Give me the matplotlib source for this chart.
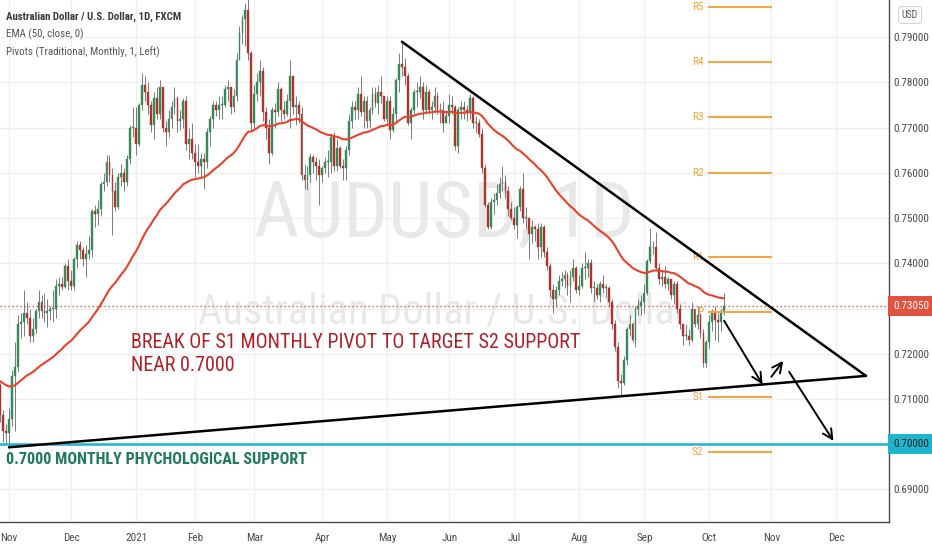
import numpy as np
import pandas as pd
import matplotlib
matplotlib.use("Agg")
import matplotlib.pyplot as plt
import matplotlib.transforms as mtransforms

NARROW = ['Roboto Condensed', 'Liberation Sans', 'DejaVu Sans']
plt.rcParams['font.family'] = NARROW

# ---- daily AUDUSD candles, Oct 28 2020 .. Oct 8 2021 (FXCM, no Dec 25 / Jan 1 bars)
first_open = 0.7130
closes = [
    # Oct 2020
    0.7065, 0.7030, 0.7025,
    # Nov
    0.7055, 0.7150, 0.7170, 0.7265, 0.7270, 0.7290, 0.7280, 0.7240, 0.7255, 0.7295,
    0.7315, 0.7295, 0.7290, 0.7295, 0.7300, 0.7300, 0.7350, 0.7355, 0.7348, 0.7395, 0.7360,
    # Dec
    0.7350, 0.7410, 0.7440, 0.7430, 0.7410, 0.7420, 0.7430, 0.7515, 0.7510, 0.7520, 0.7575,
    0.7580, 0.7625, 0.7595, 0.7560, 0.7525, 0.7590, 0.7600, 0.7580, 0.7630, 0.7700, 0.7700,
    # Jan 2021
    0.7665, 0.7750, 0.7795, 0.7780, 0.7750, 0.7705, 0.7765, 0.7730, 0.7790, 0.7700,
    0.7690, 0.7720, 0.7745, 0.7765, 0.7715, 0.7720, 0.7760, 0.7665, 0.7675, 0.7645,
    # Feb
    0.7625, 0.7615, 0.7630, 0.7625, 0.7690, 0.7720, 0.7750, 0.7740, 0.7750, 0.7750,
    0.7785, 0.7790, 0.7745, 0.7770, 0.7850, 0.7910, 0.7940, 0.7960, 0.7865, 0.7710,
    # Mar
    0.7775, 0.7800, 0.7825, 0.7735, 0.7700, 0.7645, 0.7740, 0.7735, 0.7785, 0.7740, 0.7730,
    0.7760, 0.7815, 0.7745, 0.7750, 0.7730, 0.7595, 0.7585, 0.7595, 0.7635, 0.7625, 0.7615, 0.7595,
    # Apr
    0.7610, 0.7625, 0.7625, 0.7680, 0.7615, 0.7655, 0.7615, 0.7610, 0.7650, 0.7715, 0.7745,
    0.7740, 0.7775, 0.7735, 0.7760, 0.7715, 0.7740, 0.7775, 0.7755, 0.7780, 0.7770, 0.7720,
    # May
    0.7760, 0.7695, 0.7730, 0.7805, 0.7840, 0.7835, 0.7815, 0.7710, 0.7740, 0.7780, 0.7780,
    0.7790, 0.7740, 0.7780, 0.7740, 0.7745, 0.7770, 0.7740, 0.7740, 0.7710, 0.7725,
    # Jun
    0.7750, 0.7745, 0.7660, 0.7740, 0.7745, 0.7740, 0.7735, 0.7765, 0.7710, 0.7710, 0.7685,
    0.7610, 0.7530, 0.7480, 0.7535, 0.7540, 0.7555, 0.7575, 0.7580, 0.7560, 0.7520, 0.7500,
    # Jul
    0.7485, 0.7525, 0.7565, 0.7500, 0.7500, 0.7465, 0.7480, 0.7475, 0.7435, 0.7480, 0.7425,
    0.7395, 0.7340, 0.7320, 0.7340, 0.7360, 0.7365, 0.7375, 0.7350, 0.7370, 0.7390, 0.7340,
    # Aug
    0.7350, 0.7390, 0.7390, 0.7400, 0.7345, 0.7345, 0.7330, 0.7355, 0.7345, 0.7345, 0.7315,
    0.7265, 0.7215, 0.7140, 0.7135, 0.7185, 0.7255, 0.7265, 0.7230, 0.7300, 0.7305, 0.7315,
    # Sep
    0.7335, 0.7405, 0.7435, 0.7435, 0.7390, 0.7365, 0.7370, 0.7355, 0.7365, 0.7330, 0.7355,
    0.7300, 0.7265, 0.7240, 0.7240, 0.7230, 0.7300, 0.7265, 0.7285, 0.7245, 0.7180, 0.7225,
    # Oct
    0.7270, 0.7295, 0.7275, 0.7270, 0.7295, 0.7305,
]
highs = [
    0.7135, 0.7075, 0.7045,
    0.7080, 0.7165, 0.7225, 0.7285, 0.7290, 0.7340, 0.7315, 0.7300, 0.7280, 0.7300,
    0.7340, 0.7330, 0.7335, 0.7320, 0.7305, 0.7340, 0.7365, 0.7370, 0.7370, 0.7400, 0.7410,
    0.7385, 0.7415, 0.7450, 0.7450, 0.7435, 0.7440, 0.7460, 0.7520, 0.7530, 0.7540, 0.7580,
    0.7600, 0.7640, 0.7640, 0.7610, 0.7580, 0.7600, 0.7620, 0.7610, 0.7640, 0.7705, 0.7745,
    0.7745, 0.7755, 0.7820, 0.7815, 0.7800, 0.7760, 0.7780, 0.7790, 0.7805, 0.7790,
    0.7715, 0.7740, 0.7760, 0.7790, 0.7770, 0.7740, 0.7765, 0.7770, 0.7700, 0.7710,
    0.7665, 0.7665, 0.7645, 0.7645, 0.7700, 0.7725, 0.7760, 0.7760, 0.7770, 0.7770,
    0.7795, 0.7805, 0.7785, 0.7785, 0.7865, 0.7925, 0.7950, 0.7975, 0.8007, 0.7870,
    0.7795, 0.7820, 0.7850, 0.7835, 0.7745, 0.7720, 0.7745, 0.7755, 0.7800, 0.7790, 0.7760,
    0.7775, 0.7850, 0.7810, 0.7770, 0.7760, 0.7745, 0.7620, 0.7615, 0.7645, 0.7640, 0.7635, 0.7630,
    0.7615, 0.7635, 0.7650, 0.7685, 0.7690, 0.7675, 0.7660, 0.7630, 0.7660, 0.7730, 0.7760,
    0.7760, 0.7790, 0.7815, 0.7770, 0.7770, 0.7745, 0.7790, 0.7790, 0.7795, 0.7815, 0.7770,
    0.7770, 0.7770, 0.7745, 0.7810, 0.7865, 0.7891, 0.7855, 0.7820, 0.7745, 0.7785, 0.7800,
    0.7815, 0.7800, 0.7795, 0.7785, 0.7760, 0.7790, 0.7780, 0.7755, 0.7760, 0.7740,
    0.7775, 0.7770, 0.7750, 0.7745, 0.7760, 0.7760, 0.7750, 0.7775, 0.7770, 0.7725, 0.7720,
    0.7700, 0.7620, 0.7535, 0.7545, 0.7555, 0.7575, 0.7590, 0.7615, 0.7595, 0.7570, 0.7535,
    0.7525, 0.7530, 0.7570, 0.7600, 0.7525, 0.7500, 0.7495, 0.7485, 0.7490, 0.7490, 0.7485,
    0.7435, 0.7400, 0.7355, 0.7350, 0.7375, 0.7380, 0.7385, 0.7380, 0.7385, 0.7410, 0.7395,
    0.7375, 0.7400, 0.7425, 0.7410, 0.7410, 0.7360, 0.7355, 0.7360, 0.7375, 0.7355, 0.7350,
    0.7320, 0.7275, 0.7225, 0.7155, 0.7195, 0.7260, 0.7285, 0.7270, 0.7305, 0.7320, 0.7330,
    0.7355, 0.7410, 0.7478, 0.7450, 0.7470, 0.7400, 0.7385, 0.7395, 0.7370, 0.7365, 0.7360,
    0.7360, 0.7310, 0.7260, 0.7265, 0.7255, 0.7315, 0.7300, 0.7305, 0.7290, 0.7255, 0.7230,
    0.7285, 0.7300, 0.7305, 0.7290, 0.7300, 0.7335,
]
lows = [
    0.7050, 0.7005, 0.7000,
    0.6991, 0.7040, 0.7030, 0.7160, 0.7235, 0.7240, 0.7265, 0.7225, 0.7225, 0.7245,
    0.7280, 0.7280, 0.7270, 0.7260, 0.7275, 0.7270, 0.7280, 0.7330, 0.7340, 0.7345, 0.7340,
    0.7340, 0.7340, 0.7390, 0.7410, 0.7395, 0.7370, 0.7410, 0.7415, 0.7480, 0.7485, 0.7505,
    0.7560, 0.7570, 0.7580, 0.7462, 0.7515, 0.7520, 0.7570, 0.7560, 0.7570, 0.7620, 0.7680,
    0.7640, 0.7660, 0.7740, 0.7760, 0.7730, 0.7690, 0.7675, 0.7720, 0.7720, 0.7690,
    0.7660, 0.7680, 0.7700, 0.7730, 0.7690, 0.7695, 0.7700, 0.7650, 0.7630, 0.7630,
    0.7590, 0.7600, 0.7590, 0.7565, 0.7610, 0.7660, 0.7700, 0.7725, 0.7720, 0.7720,
    0.7745, 0.7760, 0.7730, 0.7735, 0.7760, 0.7850, 0.7885, 0.7880, 0.7850, 0.7695,
    0.7700, 0.7760, 0.7770, 0.7715, 0.7675, 0.7620, 0.7640, 0.7700, 0.7725, 0.7715, 0.7720,
    0.7725, 0.7700, 0.7730, 0.7705, 0.7710, 0.7585, 0.7565, 0.7562, 0.7580, 0.7600, 0.7585, 0.7530,
    0.7580, 0.7600, 0.7590, 0.7600, 0.7605, 0.7605, 0.7610, 0.7585, 0.7585, 0.7640, 0.7700,
    0.7720, 0.7720, 0.7725, 0.7700, 0.7700, 0.7700, 0.7730, 0.7745, 0.7730, 0.7755, 0.7715,
    0.7705, 0.7675, 0.7690, 0.7710, 0.7780, 0.7815, 0.7795, 0.7705, 0.7675, 0.7730, 0.7745,
    0.7765, 0.7720, 0.7730, 0.7730, 0.7720, 0.7735, 0.7730, 0.7710, 0.7690, 0.7710,
    0.7710, 0.7730, 0.7650, 0.7645, 0.7720, 0.7720, 0.7715, 0.7720, 0.7700, 0.7690, 0.7680,
    0.7600, 0.7525, 0.7475, 0.7475, 0.7510, 0.7530, 0.7545, 0.7560, 0.7545, 0.7505, 0.7495,
    0.7475, 0.7455, 0.7515, 0.7490, 0.7475, 0.7410, 0.7445, 0.7450, 0.7410, 0.7415, 0.7415,
    0.7385, 0.7325, 0.7290, 0.7305, 0.7330, 0.7350, 0.7345, 0.7330, 0.7315, 0.7360, 0.7335,
    0.7330, 0.7345, 0.7365, 0.7370, 0.7335, 0.7315, 0.7320, 0.7315, 0.7335, 0.7325, 0.7305,
    0.7255, 0.7205, 0.7125, 0.7106, 0.7130, 0.7175, 0.7240, 0.7225, 0.7215, 0.7285, 0.7285,
    0.7290, 0.7330, 0.7400, 0.7420, 0.7385, 0.7355, 0.7350, 0.7345, 0.7340, 0.7320, 0.7310,
    0.7290, 0.7255, 0.7220, 0.7230, 0.7220, 0.7225, 0.7260, 0.7255, 0.7235, 0.7170, 0.7170,
    0.7210, 0.7250, 0.7230, 0.7225, 0.7250, 0.7285,
]
ema_seed = 0.7142  # EMA(50) value just before the first visible bar

# monthly pivot levels (Traditional, October 2021)
pivot_names = ['R5', 'R4', 'R3', 'R2', 'R1', 'P', 'S1', 'S2']
pivot_levels = [0.79670, 0.78447, 0.77230, 0.76000, 0.74146, 0.72923, 0.71049, 0.69832]
pivot_start, pivot_end = '2021-10-01', '2021-11-01'

last_price = 0.73050
support = 0.70000

# drawn trend lines and arrows (date, price)
upper_line = [('2021-05-10', 0.7890), ('2021-12-15', 0.7151)]
lower_line = [('2020-11-02', 0.6993), ('2021-12-15', 0.7151)]
arrows = [
    (('2021-10-08', 0.7273), ('2021-10-27', 0.7132)),
    (('2021-11-01', 0.7149), ('2021-11-05', 0.7184)),
    (('2021-11-09', 0.7160), ('2021-11-30', 0.7007)),
]

month_ticks = ['2020-11-02', '2020-12-01', '2021-01-04', '2021-02-01', '2021-03-01',
               '2021-04-01', '2021-05-03', '2021-06-01', '2021-07-01', '2021-08-02',
               '2021-09-01', '2021-10-01', '2021-11-01', '2021-12-01']
month_labels = ['Nov', 'Dec', '2021', 'Feb', 'Mar', 'Apr', 'May', 'Jun', 'Jul', 'Aug',
                'Sep', 'Oct', 'Nov', 'Dec']

holidays = ['2020-12-25', '2021-01-01']


def bar(d):
    return np.busday_count('2020-11-02', d, holidays=holidays)


dates = pd.bdate_range('2020-10-28', periods=len(closes), freq='C', holidays=holidays)
x = np.array([bar(d.strftime('%Y-%m-%d')) for d in dates])
c = np.array(closes)
o = np.concatenate([[first_open], c[:-1]])
h = np.array(highs)
l = np.array(lows)

ema = []
e = ema_seed
for v in closes:
    e = e + 2.0 / 51 * (v - e)
    ema.append(e)

# ---- figure
fig = plt.figure(figsize=(9.32, 5.5), dpi=100)
ax = fig.add_axes([0, 28 / 550, 889 / 932, 522 / 550])
ax.set_xlim(-9 / 2.955, 880 / 2.955)
ax.set_ylim(0.68277, 0.79825)

yt = np.round(np.arange(0.69, 0.7951, 0.01), 2)
ax.set_yticks(yt)
ax.set_yticklabels(['' if abs(t - 0.70) < 1e-6 or abs(t - 0.73) < 1e-6 else '%.5f' % t
                    for t in yt])
ax.yaxis.tick_right()
ax.set_xticks([bar(d) for d in month_ticks])
ax.set_xticklabels(month_labels)
ax.tick_params(axis='both', length=0, labelsize=8, labelcolor='#4a4a4a')
ax.tick_params(axis='x', pad=8)
ax.tick_params(axis='y', pad=3)
ax.grid(True, color='#efefef', lw=0.9, zorder=0)
ax.set_axisbelow(True)
for s in ['top', 'left']:
    ax.spines[s].set_visible(False)
for s in ['right', 'bottom']:
    ax.spines[s].set_color('#4a4a4a')
    ax.spines[s].set_linewidth(1.0)

# watermark
ax.text(0.500, 0.588, 'AUDUSD, 1D', transform=ax.transAxes, fontsize=56.5,
        color='#e8e8e8', ha='center', va='center', zorder=1)
ax.text(0.498, 0.402, 'Australian Dollar / U.S. Dollar', transform=ax.transAxes, fontsize=30.5,
        color='#e8e8e8', ha='center', va='center', zorder=1)

# candles
up = c >= o
col = np.where(up, '#358a5a', '#b0332b')
ax.vlines(x, l, h, color='#7a7a7a', lw=0.7, zorder=3)
body = np.maximum(np.abs(c - o), 0.00015)
ax.bar(x, body, bottom=np.minimum(o, c), width=0.62, color=col, edgecolor=col,
       lw=0.3, zorder=4)

ax.plot(x, ema, color='#e8412c', lw=1.5, zorder=5)

# pivots
p0, p1 = bar(pivot_start), bar(pivot_end)
for name, lev in zip(pivot_names, pivot_levels):
    ax.plot([p0, p1], [lev, lev], color='#f8a33a', lw=1.4, zorder=5)
    ax.text(p0 - 2.0, lev, name, color='#f8a33a', fontsize=8, ha='right', va='center',
            zorder=5)

# level lines
ax.axhline(last_price, color='#e0574b', lw=0.9, ls=(0, (1.2, 2.0)), zorder=2)
ax.axhline(support, color='#1fb4cf', lw=1.8, zorder=6)

for seg in (upper_line, lower_line):
    ax.plot([bar(seg[0][0]), bar(seg[1][0])], [seg[0][1], seg[1][1]],
            color='black', lw=1.8, zorder=7, solid_capstyle='round')
for (d0, v0), (d1, v1) in arrows:
    ax.annotate('', xy=(bar(d1), v1), xytext=(bar(d0), v0),
                arrowprops=dict(arrowstyle='->,head_length=0.7,head_width=0.35',
                                color='black', lw=1.4, shrinkA=0, shrinkB=0), zorder=7)

# annotation texts
ax.text(131 / 889, 1 - 354 / 522, 'BREAK OF S1 MONTHLY PIVOT TO TARGET S2 SUPPORT\nNEAR 0.7000',
        transform=ax.transAxes, fontsize=14.4, color='#b01f27', ha='left', va='center',
        linespacing=1.3, zorder=8)
ax.text(6 / 889, 1 - 459 / 522, '0.7000 MONTHLY PHYCHOLOGICAL SUPPORT', transform=ax.transAxes,
        fontsize=11.6, fontweight='bold', color='#1f7a5c', ha='left', va='center', zorder=8)

# legend
ax.text(6 / 889, 1 - 17 / 522, 'Australian Dollar / U.S. Dollar, 1D, FXCM', transform=ax.transAxes,
        fontsize=7.8, fontweight='bold', color='#3a3a3a', ha='left', va='center', zorder=8)
ax.text(6 / 889, 1 - 34 / 522, 'EMA (50, close, 0)', transform=ax.transAxes,
        fontsize=7.8, color='#555555', ha='left', va='center', zorder=8)
ax.text(6 / 889, 1 - 52 / 522, 'Pivots (Traditional, Monthly, 1, Left)', transform=ax.transAxes,
        fontsize=7.8, color='#555555', ha='left', va='center', zorder=8)

# price labels on the right scale
blend = mtransforms.blended_transform_factory(ax.transAxes, ax.transData)
ax.text(1.005, last_price, '%.5f' % last_price, transform=blend, fontsize=8, color='white',
        ha='left', va='center', clip_on=False, zorder=9,
        bbox=dict(boxstyle='square,pad=0.45', fc='#e1533f', ec='none'))
ax.text(1.005, support, '%.5f' % support, transform=blend, fontsize=8, color='#1d1d1d',
        ha='left', va='center', clip_on=False, zorder=9,
        bbox=dict(boxstyle='square,pad=0.45', fc='#20b5cf', ec='none'))
fig.text(910 / 932, 1 - 15 / 550, 'USD', fontsize=7, color='#555555', ha='center', va='center',
         bbox=dict(boxstyle='round,pad=0.35', fc='white', ec='#d4d4d4', lw=0.8))

fig.savefig('out.png', dpi=100)
